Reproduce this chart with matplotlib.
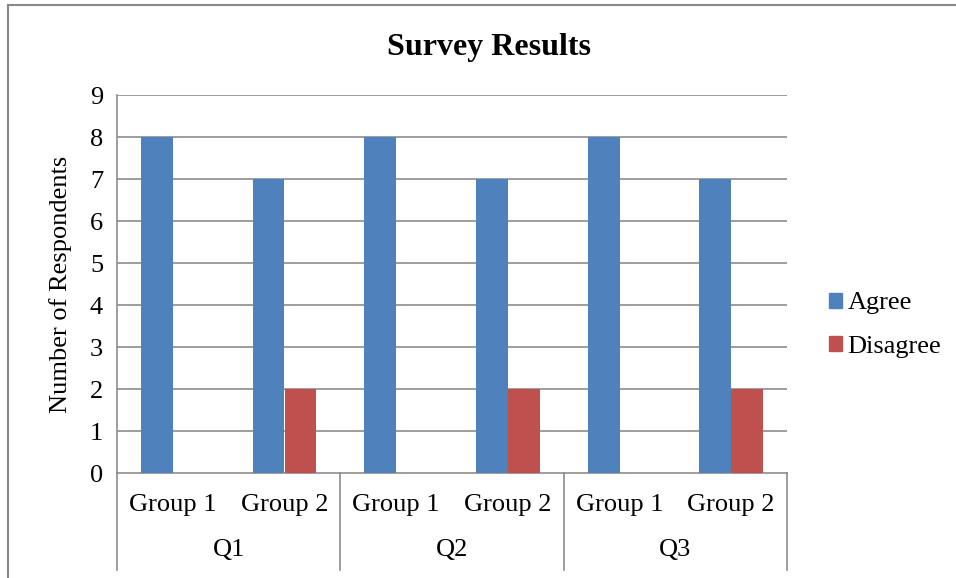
import matplotlib
matplotlib.use("Agg")
import matplotlib.pyplot as plt
import numpy as np
from matplotlib.lines import Line2D
from matplotlib.patches import Patch
import matplotlib.transforms as mtransforms

groups = ["Group 1", "Group 2", "Group 1", "Group 2", "Group 1", "Group 2"]
questions = ["Q1", "Q2", "Q3"]
agree = [8, 7, 8, 7, 8, 7]
disagree = [0, 2, 0, 2, 0, 2]
series_names = ["Agree", "Disagree"]
colors = ["#4F81BD", "#C0504D"]
yticks = list(range(0, 10))

plt.rcParams['font.family'] = ['Liberation Serif', 'DejaVu Serif']
W, H = 956, 578
fig = plt.figure(figsize=(W / 100, H / 100), dpi=100)
L, R, T, B = 117, 787, 95, 473
ax = fig.add_axes([L / W, 1 - B / H, (R - L) / W, (B - T) / H])

fs = 19
grid_c = "#8C8C8C"
x = np.arange(len(groups))
w = 1 / 3.5
ax.bar(x - w / 2, agree, width=w, color=colors[0], zorder=3)
ax.bar(x + w / 2, disagree, width=w, color=colors[1], zorder=3)

ax.set_xlim(-0.5, len(groups) - 0.5)
ax.set_ylim(0, 9)
ax.set_yticks(yticks)
ax.set_yticklabels([str(v) for v in yticks], fontsize=fs)
ax.tick_params(axis='y', length=0, pad=10)
ax.set_xticks([])
for v in yticks[1:]:
    ax.axhline(v, color=grid_c, lw=1.2, zorder=1)
for s in ['top', 'right']:
    ax.spines[s].set_visible(False)
for s in ['left', 'bottom']:
    ax.spines[s].set_color(grid_c)
    ax.spines[s].set_linewidth(1.2)

ax.set_ylabel("Number of Respondents", fontsize=fs, labelpad=13)

trans = mtransforms.blended_transform_factory(ax.transData, ax.transAxes)
ph = B - T
y_grp = -(505 - B) / ph
y_q = -(550 - B) / ph
y_end = -(570 - B) / ph
for i, g in enumerate(groups):
    ax.text(i, y_grp, g, transform=trans, ha='center', va='center', fontsize=fs)
for j, q in enumerate(questions):
    ax.text(2 * j + 0.5, y_q, q, transform=trans, ha='center', va='center', fontsize=fs)
for xs in [-0.5, 1.5, 3.5, 5.5]:
    ax.add_line(Line2D([xs, xs], [0, y_end], transform=trans, color=grid_c,
                       lw=1.2, clip_on=False))

fig.text(489 / W, 1 - 48 / H, "Survey Results", fontsize=23, fontweight='bold',
         ha='center', va='center')

handles = [Patch(color=c) for c in colors]
fig.legend(handles, series_names, loc='center left', bbox_to_anchor=(829 / W, 1 - 325 / H),
           frameon=False, fontsize=fs, handlelength=0.5, handleheight=0.5,
           handletextpad=0.2, labelspacing=0.8, borderpad=0, borderaxespad=0)

fig.add_artist(Line2D([8 / W, 955 / W], [1 - 5 / H, 1 - 5 / H], color="#888888", lw=1.5))
fig.add_artist(Line2D([8 / W, 8 / W], [1 - 5 / H, 0], color="#888888", lw=1.5))

fig.savefig("out.png", dpi=100)
